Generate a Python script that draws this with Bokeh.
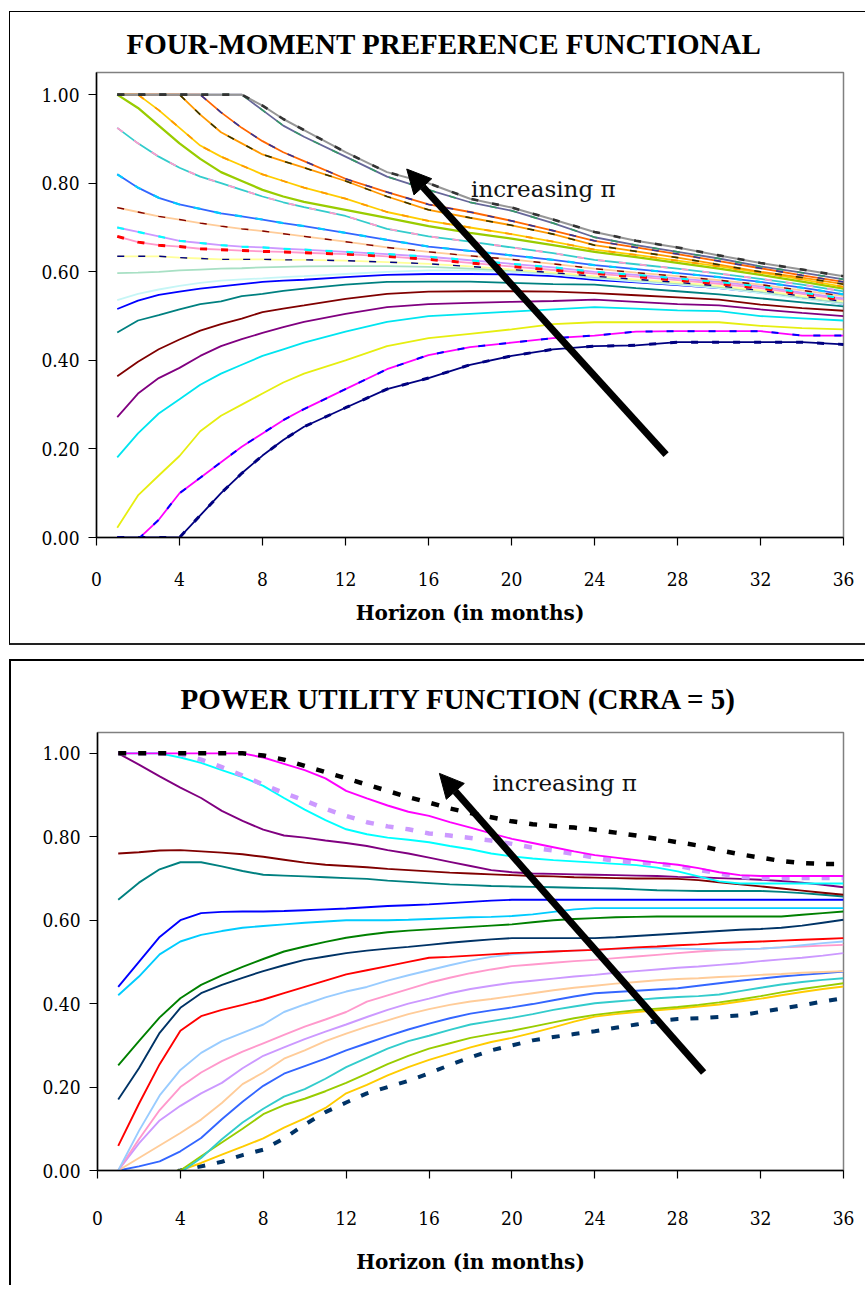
from bokeh.plotting import figure
from bokeh.models import Range1d, Arrow, NormalHead, Label, FixedTicker, NumeralTickFormatter
from bokeh.layouts import column
from bokeh.embed import file_html
from bokeh.resources import INLINE

# ---------------- data: top panel (four-moment preference functional) ----------------
TOP_MONTHS = [1, 2, 3, 4, 5, 6, 7, 8, 9, 10, 12, 14, 16, 18, 20, 22, 24, 26, 28, 30, 32, 34, 36]
top_a = [1, 1, 1, 1, 1, 1, 1, 0.975, 0.945, 0.92, 0.87, 0.825, 0.80, 0.765, 0.745, 0.718, 0.69, 0.67, 0.655, 0.637, 0.62, 0.605, 0.59]
top_b = [1, 1, 1, 1, 1, 1, 1, 0.965, 0.93, 0.905, 0.86, 0.815, 0.785, 0.757, 0.738, 0.71, 0.678, 0.66, 0.645, 0.63, 0.612, 0.598, 0.583]
top_c = [1, 1, 1, 1, 1, 0.96, 0.925, 0.895, 0.87, 0.85, 0.81, 0.78, 0.752, 0.735, 0.715, 0.693, 0.67, 0.655, 0.64, 0.624, 0.608, 0.592, 0.577]
top_d = [1, 1, 1, 1, 0.955, 0.915, 0.89, 0.865, 0.85, 0.835, 0.805, 0.77, 0.74, 0.722, 0.705, 0.685, 0.66, 0.646, 0.632, 0.616, 0.60, 0.587, 0.572]
top_e = [1, 1, 0.965, 0.925, 0.885, 0.86, 0.84, 0.82, 0.805, 0.79, 0.765, 0.735, 0.715, 0.70, 0.685, 0.668, 0.65, 0.638, 0.625, 0.612, 0.598, 0.583, 0.566]
top_f = [1, 0.97, 0.93, 0.89, 0.855, 0.825, 0.805, 0.785, 0.77, 0.758, 0.74, 0.722, 0.703, 0.688, 0.675, 0.66, 0.645, 0.633, 0.62, 0.607, 0.593, 0.578, 0.562]
top_g = [0.925, 0.89, 0.86, 0.835, 0.815, 0.80, 0.785, 0.77, 0.757, 0.746, 0.726, 0.697, 0.68, 0.668, 0.655, 0.642, 0.627, 0.617, 0.607, 0.596, 0.584, 0.571, 0.556]
top_h = [0.82, 0.79, 0.767, 0.752, 0.742, 0.732, 0.725, 0.718, 0.71, 0.703, 0.688, 0.672, 0.657, 0.647, 0.637, 0.627, 0.615, 0.606, 0.597, 0.588, 0.577, 0.564, 0.549]
top_i = [0.745, 0.735, 0.725, 0.718, 0.71, 0.703, 0.697, 0.692, 0.686, 0.68, 0.668, 0.655, 0.645, 0.636, 0.628, 0.618, 0.607, 0.598, 0.59, 0.581, 0.571, 0.558, 0.545]
top_j = [0.70, 0.69, 0.68, 0.67, 0.665, 0.66, 0.657, 0.655, 0.652, 0.65, 0.645, 0.64, 0.634, 0.626, 0.618, 0.61, 0.60, 0.593, 0.585, 0.577, 0.567, 0.553, 0.54]
top_k = [0.68, 0.667, 0.66, 0.657, 0.652, 0.65, 0.648, 0.646, 0.645, 0.643, 0.64, 0.635, 0.628, 0.62, 0.612, 0.604, 0.596, 0.589, 0.581, 0.573, 0.563, 0.55, 0.537]
top_l = [0.635, 0.635, 0.635, 0.632, 0.63, 0.628, 0.628, 0.628, 0.627, 0.627, 0.625, 0.622, 0.618, 0.612, 0.605, 0.598, 0.59, 0.583, 0.576, 0.568, 0.558, 0.545, 0.533]
top_m = [0.597, 0.598, 0.60, 0.603, 0.605, 0.607, 0.608, 0.61, 0.611, 0.612, 0.613, 0.613, 0.611, 0.607, 0.603, 0.597, 0.588, 0.581, 0.574, 0.566, 0.555, 0.542, 0.53]
top_n = [0.536, 0.55, 0.56, 0.568, 0.575, 0.58, 0.583, 0.585, 0.588, 0.59, 0.595, 0.60, 0.603, 0.603, 0.60, 0.594, 0.585, 0.578, 0.571, 0.563, 0.552, 0.539, 0.527]
top_o = [0.516, 0.535, 0.548, 0.555, 0.562, 0.567, 0.572, 0.577, 0.58, 0.582, 0.588, 0.593, 0.595, 0.595, 0.594, 0.59, 0.582, 0.576, 0.57, 0.563, 0.553, 0.541, 0.527]
top_p = [0.463, 0.49, 0.502, 0.515, 0.527, 0.533, 0.545, 0.55, 0.557, 0.562, 0.571, 0.577, 0.578, 0.578, 0.575, 0.572, 0.571, 0.563, 0.556, 0.549, 0.54, 0.531, 0.522]
top_q = [0.364, 0.397, 0.425, 0.447, 0.467, 0.482, 0.494, 0.509, 0.517, 0.524, 0.539, 0.55, 0.555, 0.556, 0.556, 0.555, 0.552, 0.547, 0.542, 0.537, 0.526, 0.518, 0.512]
top_r = [0.272, 0.325, 0.36, 0.383, 0.41, 0.432, 0.448, 0.462, 0.475, 0.487, 0.505, 0.52, 0.527, 0.53, 0.532, 0.534, 0.537, 0.532, 0.527, 0.524, 0.515, 0.507, 0.50]
top_s = [0.181, 0.235, 0.28, 0.312, 0.345, 0.37, 0.39, 0.41, 0.425, 0.44, 0.465, 0.487, 0.50, 0.505, 0.51, 0.515, 0.52, 0.517, 0.513, 0.511, 0.50, 0.495, 0.49]
top_t = [0.022, 0.095, 0.14, 0.184, 0.24, 0.275, 0.30, 0.325, 0.35, 0.37, 0.40, 0.432, 0.45, 0.46, 0.47, 0.482, 0.486, 0.486, 0.486, 0.486, 0.478, 0.473, 0.47]
top_u = [0.0, -0.004, 0.04, 0.10, 0.135, 0.17, 0.205, 0.235, 0.265, 0.29, 0.335, 0.38, 0.412, 0.43, 0.44, 0.45, 0.456, 0.465, 0.466, 0.466, 0.466, 0.456, 0.456]
top_v = [0, 0, 0, 0, 0.05, 0.10, 0.145, 0.185, 0.22, 0.25, 0.293, 0.335, 0.36, 0.39, 0.41, 0.425, 0.432, 0.434, 0.441, 0.441, 0.441, 0.441, 0.436]

# ---------------- data: bottom panel (power utility, CRRA = 5) ----------------
BOTTOM_MONTHS = list(range(1, 37))
bot_black = [1, 1, 1, 1, 1, 1, 1, 0.995, 0.985, 0.97, 0.955, 0.94, 0.925, 0.91, 0.895, 0.882, 0.868, 0.857, 0.847, 0.837, 0.83, 0.826, 0.822, 0.817, 0.81, 0.803, 0.795, 0.787, 0.779, 0.768, 0.758, 0.75, 0.742, 0.737, 0.735, 0.735]
bot_magenta = [1, 1, 1, 1, 1, 1, 1, 0.99, 0.975, 0.96, 0.94, 0.91, 0.892, 0.875, 0.86, 0.85, 0.835, 0.822, 0.808, 0.795, 0.785, 0.775, 0.765, 0.756, 0.75, 0.744, 0.738, 0.733, 0.725, 0.715, 0.708, 0.706, 0.706, 0.706, 0.706, 0.706]
bot_lilac_dash = [1, 1, 1, 0.998, 0.985, 0.967, 0.947, 0.925, 0.905, 0.887, 0.867, 0.85, 0.835, 0.825, 0.818, 0.808, 0.803, 0.797, 0.791, 0.783, 0.774, 0.767, 0.759, 0.75, 0.742, 0.738, 0.736, 0.73, 0.721, 0.712, 0.704, 0.701, 0.701, 0.701, 0.701, 0.701]
bot_cyan = [1, 1, 1, 0.99, 0.977, 0.96, 0.943, 0.922, 0.893, 0.865, 0.84, 0.818, 0.806, 0.798, 0.793, 0.787, 0.778, 0.77, 0.76, 0.753, 0.748, 0.744, 0.741, 0.738, 0.735, 0.732, 0.726, 0.717, 0.705, 0.693, 0.688, 0.688, 0.688, 0.688, 0.688, 0.688]
bot_purple = [1, 0.973, 0.945, 0.918, 0.893, 0.862, 0.838, 0.817, 0.803, 0.798, 0.791, 0.785, 0.778, 0.768, 0.76, 0.75, 0.74, 0.73, 0.72, 0.715, 0.712, 0.711, 0.71, 0.709, 0.708, 0.707, 0.706, 0.704, 0.703, 0.701, 0.699, 0.697, 0.694, 0.69, 0.685, 0.679]
bot_maroon = [0.76, 0.763, 0.767, 0.768, 0.765, 0.762, 0.758, 0.752, 0.745, 0.738, 0.733, 0.73, 0.727, 0.723, 0.72, 0.717, 0.714, 0.712, 0.71, 0.708, 0.706, 0.705, 0.703, 0.702, 0.701, 0.70, 0.70, 0.699, 0.696, 0.691, 0.686, 0.681, 0.676, 0.671, 0.666, 0.661]
bot_teal = [0.649, 0.69, 0.722, 0.739, 0.739, 0.729, 0.718, 0.709, 0.707, 0.705, 0.703, 0.701, 0.699, 0.695, 0.692, 0.689, 0.686, 0.684, 0.682, 0.681, 0.68, 0.679, 0.678, 0.677, 0.676, 0.674, 0.672, 0.671, 0.67, 0.67, 0.67, 0.67, 0.668, 0.665, 0.661, 0.657]
bot_blue = [0.44, 0.50, 0.56, 0.60, 0.617, 0.62, 0.621, 0.621, 0.622, 0.624, 0.626, 0.628, 0.631, 0.634, 0.636, 0.638, 0.641, 0.644, 0.647, 0.649, 0.649, 0.649, 0.649, 0.649, 0.649, 0.649, 0.649, 0.649, 0.649, 0.649, 0.649, 0.649, 0.649, 0.649, 0.649, 0.649]
bot_sky = [0.42, 0.465, 0.518, 0.549, 0.565, 0.574, 0.582, 0.586, 0.59, 0.594, 0.597, 0.60, 0.60, 0.60, 0.601, 0.603, 0.605, 0.607, 0.608, 0.61, 0.614, 0.62, 0.626, 0.629, 0.629, 0.629, 0.629, 0.629, 0.629, 0.629, 0.629, 0.629, 0.629, 0.629, 0.629, 0.629]
bot_green = [0.252, 0.31, 0.367, 0.413, 0.445, 0.468, 0.488, 0.507, 0.525, 0.537, 0.548, 0.558, 0.565, 0.571, 0.575, 0.578, 0.581, 0.584, 0.587, 0.59, 0.595, 0.60, 0.603, 0.605, 0.607, 0.608, 0.609, 0.609, 0.609, 0.609, 0.609, 0.609, 0.609, 0.613, 0.617, 0.621]
bot_navy = [0.17, 0.245, 0.33, 0.39, 0.425, 0.445, 0.462, 0.478, 0.492, 0.505, 0.513, 0.521, 0.527, 0.532, 0.536, 0.541, 0.546, 0.55, 0.554, 0.557, 0.557, 0.557, 0.557, 0.557, 0.559, 0.562, 0.565, 0.568, 0.571, 0.574, 0.577, 0.579, 0.582, 0.587, 0.594, 0.601]
bot_red = [0.059, 0.16, 0.255, 0.335, 0.37, 0.385, 0.397, 0.41, 0.425, 0.44, 0.455, 0.47, 0.48, 0.49, 0.50, 0.51, 0.512, 0.515, 0.518, 0.521, 0.523, 0.525, 0.527, 0.529, 0.532, 0.535, 0.537, 0.54, 0.542, 0.545, 0.547, 0.549, 0.551, 0.553, 0.555, 0.557]
bot_lightblue = [0.0, 0.095, 0.18, 0.241, 0.282, 0.31, 0.33, 0.35, 0.38, 0.398, 0.415, 0.429, 0.44, 0.455, 0.468, 0.48, 0.492, 0.503, 0.512, 0.518, 0.522, 0.525, 0.527, 0.529, 0.531, 0.532, 0.533, 0.532, 0.531, 0.53, 0.53, 0.532, 0.535, 0.54, 0.545, 0.549]
bot_pink = [0.0, 0.075, 0.145, 0.20, 0.235, 0.262, 0.285, 0.305, 0.325, 0.345, 0.362, 0.38, 0.405, 0.42, 0.435, 0.45, 0.462, 0.473, 0.482, 0.49, 0.494, 0.498, 0.502, 0.505, 0.509, 0.513, 0.517, 0.521, 0.525, 0.528, 0.53, 0.532, 0.535, 0.537, 0.539, 0.541]
bot_lilac = [0.0, 0.065, 0.12, 0.155, 0.185, 0.21, 0.245, 0.275, 0.295, 0.315, 0.333, 0.35, 0.368, 0.385, 0.40, 0.412, 0.425, 0.435, 0.443, 0.45, 0.455, 0.46, 0.465, 0.469, 0.474, 0.478, 0.482, 0.486, 0.489, 0.493, 0.497, 0.502, 0.506, 0.51, 0.515, 0.521]
bot_peach = [0.0, 0.03, 0.06, 0.09, 0.122, 0.162, 0.207, 0.235, 0.268, 0.288, 0.31, 0.328, 0.345, 0.36, 0.375, 0.387, 0.397, 0.405, 0.411, 0.418, 0.425, 0.432, 0.438, 0.443, 0.448, 0.452, 0.456, 0.459, 0.461, 0.464, 0.466, 0.469, 0.471, 0.474, 0.476, 0.478]
bot_royal = [0.0, 0.01, 0.022, 0.046, 0.078, 0.123, 0.165, 0.203, 0.232, 0.25, 0.268, 0.288, 0.305, 0.322, 0.338, 0.352, 0.365, 0.376, 0.384, 0.391, 0.399, 0.408, 0.417, 0.425, 0.428, 0.431, 0.434, 0.437, 0.443, 0.449, 0.455, 0.46, 0.465, 0.469, 0.473, 0.477]
bot_turq = [0.0, -0.005, -0.008, -0.005, 0.03, 0.075, 0.115, 0.148, 0.177, 0.195, 0.22, 0.248, 0.27, 0.292, 0.31, 0.323, 0.337, 0.35, 0.358, 0.366, 0.375, 0.385, 0.393, 0.401, 0.405, 0.409, 0.413, 0.416, 0.418, 0.422, 0.43, 0.438, 0.446, 0.452, 0.457, 0.461]
bot_ygreen = [0.0, -0.006, -0.006, 0.0, 0.034, 0.067, 0.10, 0.135, 0.157, 0.172, 0.19, 0.21, 0.232, 0.255, 0.275, 0.292, 0.305, 0.318, 0.327, 0.335, 0.345, 0.355, 0.365, 0.373, 0.379, 0.384, 0.388, 0.392, 0.397, 0.403, 0.41, 0.418, 0.427, 0.435, 0.442, 0.449]
bot_gold = [0.0, -0.005, -0.005, 0.0, 0.018, 0.038, 0.057, 0.077, 0.103, 0.125, 0.15, 0.185, 0.205, 0.228, 0.248, 0.265, 0.28, 0.295, 0.308, 0.318, 0.33, 0.343, 0.357, 0.369, 0.375, 0.38, 0.384, 0.388, 0.393, 0.398, 0.405, 0.412, 0.42, 0.428, 0.435, 0.441]
bot_navy_dash = [0.0, -0.008, -0.008, 0.0, 0.01, 0.021, 0.037, 0.05, 0.077, 0.11, 0.14, 0.163, 0.185, 0.20, 0.215, 0.233, 0.253, 0.271, 0.288, 0.30, 0.312, 0.32, 0.327, 0.334, 0.342, 0.35, 0.358, 0.363, 0.365, 0.368, 0.372, 0.38, 0.388, 0.396, 0.405, 0.413]

# ---------------- texts and ticks ----------------
TOP_TITLE = "FOUR-MOMENT PREFERENCE FUNCTIONAL"
BOTTOM_TITLE = "POWER UTILITY FUNCTION (CRRA = 5)"
X_LABEL = "Horizon (in months)"
ANNOTATION = "increasing  \u03c0"
X_TICKS = [0, 4, 8, 12, 16, 20, 24, 28, 32, 36]
Y_TICKS = [0.0, 0.2, 0.4, 0.6, 0.8, 1.0]

# ---------------- styles ----------------
F_TICK = "DejaVu Serif Condensed"
F_XLABEL = "DejaVu Serif"
F_ANN = "DejaVu Serif"
F_TITLE = "Liberation Serif"

TW = 1.8   # top solid line width
BW = 1.9   # bottom solid line width
TOP_STYLES = [
    (top_v, "#000080", TW, "solid"), (top_u, "#FF00FF", TW, "solid"),
    (top_t, "#E6EE10", TW, "solid"), (top_s, "#00E5F0", TW, "solid"),
    (top_r, "#800080", TW, "solid"), (top_q, "#800000", TW, "solid"),
    (top_p, "#008080", TW, "solid"), (top_o, "#0000FF", TW, "solid"),
    (top_n, "#C6F6F6", TW, "solid"), (top_m, "#A8E0C4", TW, "solid"),
    (top_l, "#FFFF99", TW, "solid"), (top_k, "#FF99CC", TW, "solid"),
    (top_j, "#CC99FF", TW, "solid"), (top_i, "#FFCC99", TW, "solid"),
    (top_h, "#3366FF", TW, "solid"), (top_g, "#33CCCC", TW, "solid"),
    (top_f, "#99CC00", 2.3, "solid"), (top_e, "#FFCC00", TW, "solid"),
    (top_d, "#FF9900", TW, "solid"), (top_c, "#FF6600", TW, "solid"),
    (top_b, "#666699", TW, "solid"), (top_a, "#969696", 2.0, "solid"),
    (top_v, "#000080", 3.0, "7 14"), (top_u, "#0000FF", 2.0, "7 14"),
    (top_l, "#000080", 1.4, "7 14"), (top_k, "#FF0000", 3.0, "7 14"),
    (top_j, "#00FFFF", 2.2, "7 14"), (top_i, "#800000", 1.4, "7 14"),
    (top_h, "#00CCFF", 2.2, "7 14"), (top_g, "#FF99CC", 1.8, "7 14"),
    (top_e, "#FF9900", 1.8, "7 14"), (top_d, "#333300", 1.6, "7 14"),
    (top_c, "#333399", 1.6, "7 14"), (top_b, "#339966", 1.6, "7 14"),
    (top_a, "#333333", 2.6, "7 14"),
]
BOTTOM_STYLES = [
    (bot_navy_dash, "#003366", 4.0, "8 12"),
    (bot_gold, "#FFCC00", BW, "solid"), (bot_ygreen, "#99CC00", BW, "solid"),
    (bot_turq, "#33CCCC", BW, "solid"), (bot_royal, "#3366FF", BW, "solid"),
    (bot_peach, "#FFCC99", BW, "solid"), (bot_lilac, "#CC99FF", BW, "solid"),
    (bot_pink, "#FF99CC", BW, "solid"), (bot_lightblue, "#99CCFF", BW, "solid"),
    (bot_red, "#FF0000", BW, "solid"), (bot_navy, "#003366", BW, "solid"),
    (bot_green, "#008000", BW, "solid"), (bot_sky, "#00CCFF", BW, "solid"),
    (bot_blue, "#0000FF", BW, "solid"), (bot_teal, "#008080", BW, "solid"),
    (bot_maroon, "#800000", BW, "solid"), (bot_purple, "#800080", BW, "solid"),
    (bot_cyan, "#00FFFF", BW, "solid"), (bot_lilac_dash, "#CC99FF", 4.5, "8 12"),
    (bot_magenta, "#FF00FF", BW, "solid"), (bot_black, "#000000", 4.5, "8 12"),
]


def make_panel(width, height, mtop, mbottom, mleft, mright, x_std, xlab_std,
               title, title_std, title_off):
    p = figure(width=width, height=height, x_range=Range1d(0, 36), y_range=Range1d(0, 1.05),
               output_backend="svg", toolbar_location=None,
               min_border_top=mtop, min_border_bottom=mbottom,
               min_border_left=mleft, min_border_right=mright)
    p.xgrid.visible = False
    p.ygrid.visible = False
    p.outline_line_color = "#808080"
    p.outline_line_width = 1.5
    p.background_fill_color = "white"
    p.border_fill_color = "white"
    for ax in (p.xaxis[0], p.yaxis[0]):
        ax.axis_line_color = "black"
        ax.axis_line_width = 1.5
        ax.major_tick_line_color = "black"
        ax.major_tick_line_width = 1.2
        ax.major_tick_in = 0
        ax.major_tick_out = 8
        ax.minor_tick_line_color = None
        ax.major_label_text_font = F_TICK
        ax.major_label_text_font_size = "19px"
        ax.major_label_text_color = "black"
    p.xaxis.ticker = FixedTicker(ticks=X_TICKS)
    p.yaxis.ticker = FixedTicker(ticks=Y_TICKS)
    p.yaxis.formatter = NumeralTickFormatter(format="0.00")
    p.yaxis.major_label_standoff = 9
    p.xaxis.major_label_standoff = x_std
    p.xaxis.axis_label = X_LABEL
    p.xaxis.axis_label_text_font = F_XLABEL
    p.xaxis.axis_label_text_font_style = "bold"
    p.xaxis.axis_label_text_font_size = "20px"
    p.xaxis.axis_label_text_color = "black"
    p.xaxis.axis_label_standoff = xlab_std
    p.title.text = title
    p.title.align = "left"
    p.title.vertical_align = "top"
    p.title.text_font = F_TITLE
    p.title.text_font_style = "bold"
    p.title.text_font_size = "29px"
    p.title.text_color = "black"
    p.title.standoff = title_std
    p.title.offset = title_off
    return p


# ---------------- top panel ----------------
top = make_panel(856, 634, 60, 109, 86, 20, 26, 12, TOP_TITLE, 22, 30)
for ys, col, w, dash in TOP_STYLES:
    top.line(TOP_MONTHS, ys, line_color=col, line_width=w, line_dash=dash)
top.add_layout(Arrow(end=NormalHead(size=24, fill_color="black", line_color="black"),
                     x_start=27.45, y_start=0.187, x_end=14.95, y_end=0.832,
                     line_width=7, line_color="black"))
top.add_layout(Label(x=18.05, y=0.786, text=ANNOTATION, text_font=F_ANN, text_font_size="23px",
                     text_baseline="middle", text_align="left", text_color="#111111"))
top.styles = {"border-left": "1.5px solid #000", "border-top": "1.5px solid #000",
              "border-bottom": "2.5px solid #222"}
top.margin = (11, 0, 0, 9)

# ---------------- bottom panel ----------------
bot = make_panel(855, 626, 71, 117, 86, 23, 32, 22, BOTTOM_TITLE, 32, 83)
for ys, col, w, dash in BOTTOM_STYLES:
    bot.line(BOTTOM_MONTHS, ys, line_color=col, line_width=w, line_dash=dash)
bot.add_layout(Arrow(end=NormalHead(size=24, fill_color="black", line_color="black"),
                     x_start=29.25, y_start=0.235, x_end=16.5, y_end=0.952,
                     line_width=7, line_color="black"))
bot.add_layout(Label(x=19.06, y=0.928, text=ANNOTATION, text_font=F_ANN, text_font_size="23px",
                     text_baseline="middle", text_align="left", text_color="#111111"))
bot.styles = {"border-left": "2px solid #000", "border-top": "2px solid #000"}
bot.margin = (14, 0, 0, 9)

layout = column(top, bot)
open("out.html", "w").write(file_html(layout, INLINE))
